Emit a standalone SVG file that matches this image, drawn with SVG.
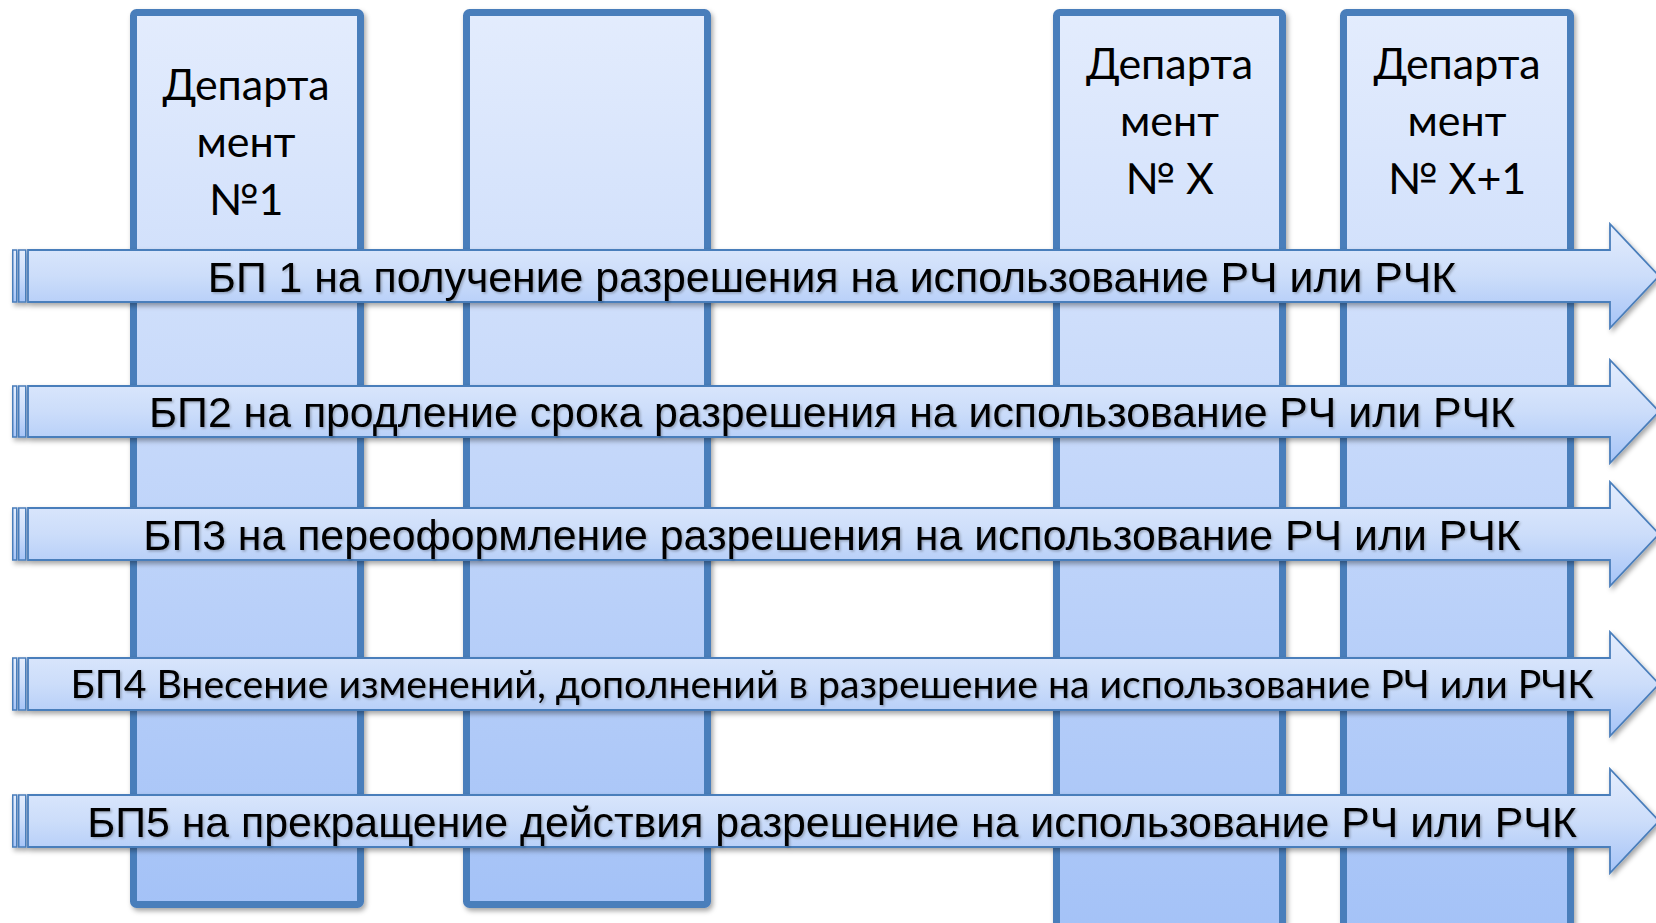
<svg xmlns="http://www.w3.org/2000/svg" width="1656" height="923" viewBox="0 0 1656 923">
  <defs>
    <linearGradient id="colFill" x1="0" y1="0" x2="0" y2="1">
      <stop offset="0" stop-color="#E3ECFD"/>
      <stop offset="1" stop-color="#A4C2F7"/>
    </linearGradient>
    <linearGradient id="arrFill" x1="0" y1="0" x2="0" y2="1">
      <stop offset="0" stop-color="#E4EDFD"/>
      <stop offset="0.5" stop-color="#CCDDFA"/>
      <stop offset="1" stop-color="#A6C4F7"/>
    </linearGradient>
    <filter id="shadow" x="-5%" y="-5%" width="115%" height="130%">
      <feDropShadow dx="2" dy="3" stdDeviation="2.5" flood-color="#000" flood-opacity="0.35"/>
    </filter>
    <filter id="tshadow" x="-2%" y="-20%" width="104%" height="150%">
      <feDropShadow dx="1.5" dy="1.5" stdDeviation="1" flood-color="#000" flood-opacity="0.25"/>
    </filter>
  </defs>
  <style>
    .col { fill: url(#colFill); stroke: #4A7EBB; stroke-width: 7; filter: url(#shadow); }
    .arr { fill: url(#arrFill); stroke: #4A7EBB; stroke-width: 1.8; stroke-linejoin: miter; }
    .strip { fill: url(#arrFill); stroke: #4A7EBB; stroke-width: 1.5; }
    .arrow { filter: url(#shadow); }
    .dept { font-family: Lato, "Open Sans", "Noto Sans", sans-serif; font-size: 43px; fill: #000; text-anchor: middle; }
    .lbl { font-family: "Liberation Sans", Arial, sans-serif; font-size: 42.8px; fill: #000; text-anchor: middle; filter: url(#tshadow); }
    .lblc { font-family: Lato, "Open Sans", "Noto Sans", sans-serif; font-size: 39.2px; fill: #000; text-anchor: middle; filter: url(#tshadow); }
  </style>

  <g id="dept1">
    <rect class="col" x="133.5" y="12.5" width="227" height="892" rx="3"/>
    <text class="dept" x="246" y="100">Департа</text>
    <text class="dept" x="246" y="157">мент</text>
    <text class="dept" x="246" y="215">№1</text>
  </g>
  <g id="dept2">
    <rect class="col" x="466.5" y="12.5" width="241" height="892" rx="3"/>
  </g>
  <g id="deptX">
    <rect class="col" x="1056.5" y="12.5" width="226" height="920" rx="3"/>
    <text class="dept" x="1169.5" y="79">Департа</text>
    <text class="dept" x="1169.5" y="136">мент</text>
    <text class="dept" x="1169.5" y="194">№ X</text>
  </g>
  <g id="deptX1">
    <rect class="col" x="1343.5" y="12.5" width="227" height="920" rx="3"/>
    <text class="dept" x="1457" y="79">Департа</text>
    <text class="dept" x="1457" y="136">мент</text>
    <text class="dept" x="1457" y="194">№ X+1</text>
  </g>

  <g id="connectors">
    <g id="bp1" class="arrow">
      <rect class="strip" x="12.75" y="250" width="4" height="52"/>
      <rect class="strip" x="18.75" y="250" width="7" height="52"/>
      <path class="arr" d="M28,250 H1610 V224 L1659,276 L1610,328 V302 H28 Z"/>
      <text class="lbl" x="832" y="291.5">БП 1 на получение разрешения на использование РЧ или РЧК</text>
    </g>
    <g id="bp2" class="arrow">
      <rect class="strip" x="12.75" y="386" width="4" height="51"/>
      <rect class="strip" x="18.75" y="386" width="7" height="51"/>
      <path class="arr" d="M28,386 H1610 V360 L1659,411.5 L1610,463 V437 H28 Z"/>
      <text class="lbl" x="832" y="427">БП2 на продление срока разрешения на использование РЧ или РЧК</text>
    </g>
    <g id="bp3" class="arrow">
      <rect class="strip" x="12.75" y="508" width="4" height="52"/>
      <rect class="strip" x="18.75" y="508" width="7" height="52"/>
      <path class="arr" d="M28,508 H1610 V482 L1659,534 L1610,586 V560 H28 Z"/>
      <text class="lbl" x="832" y="549.5">БП3 на переоформление разрешения на использование РЧ или РЧК</text>
    </g>
    <g id="bp4" class="arrow">
      <rect class="strip" x="12.75" y="658" width="4" height="52"/>
      <rect class="strip" x="18.75" y="658" width="7" height="52"/>
      <path class="arr" d="M28,658 H1610 V632 L1659,684 L1610,736 V710 H28 Z"/>
      <text class="lblc" x="832" y="698">БП4 Внесение изменений, дополнений в разрешение на использование РЧ или РЧК</text>
    </g>
    <g id="bp5" class="arrow">
      <rect class="strip" x="12.75" y="795" width="4" height="52"/>
      <rect class="strip" x="18.75" y="795" width="7" height="52"/>
      <path class="arr" d="M28,795 H1610 V769 L1659,821 L1610,873 V847 H28 Z"/>
      <text class="lbl" x="832" y="836.5">БП5 на прекращение действия разрешение на использование РЧ или РЧК</text>
    </g>
  </g>
</svg>
